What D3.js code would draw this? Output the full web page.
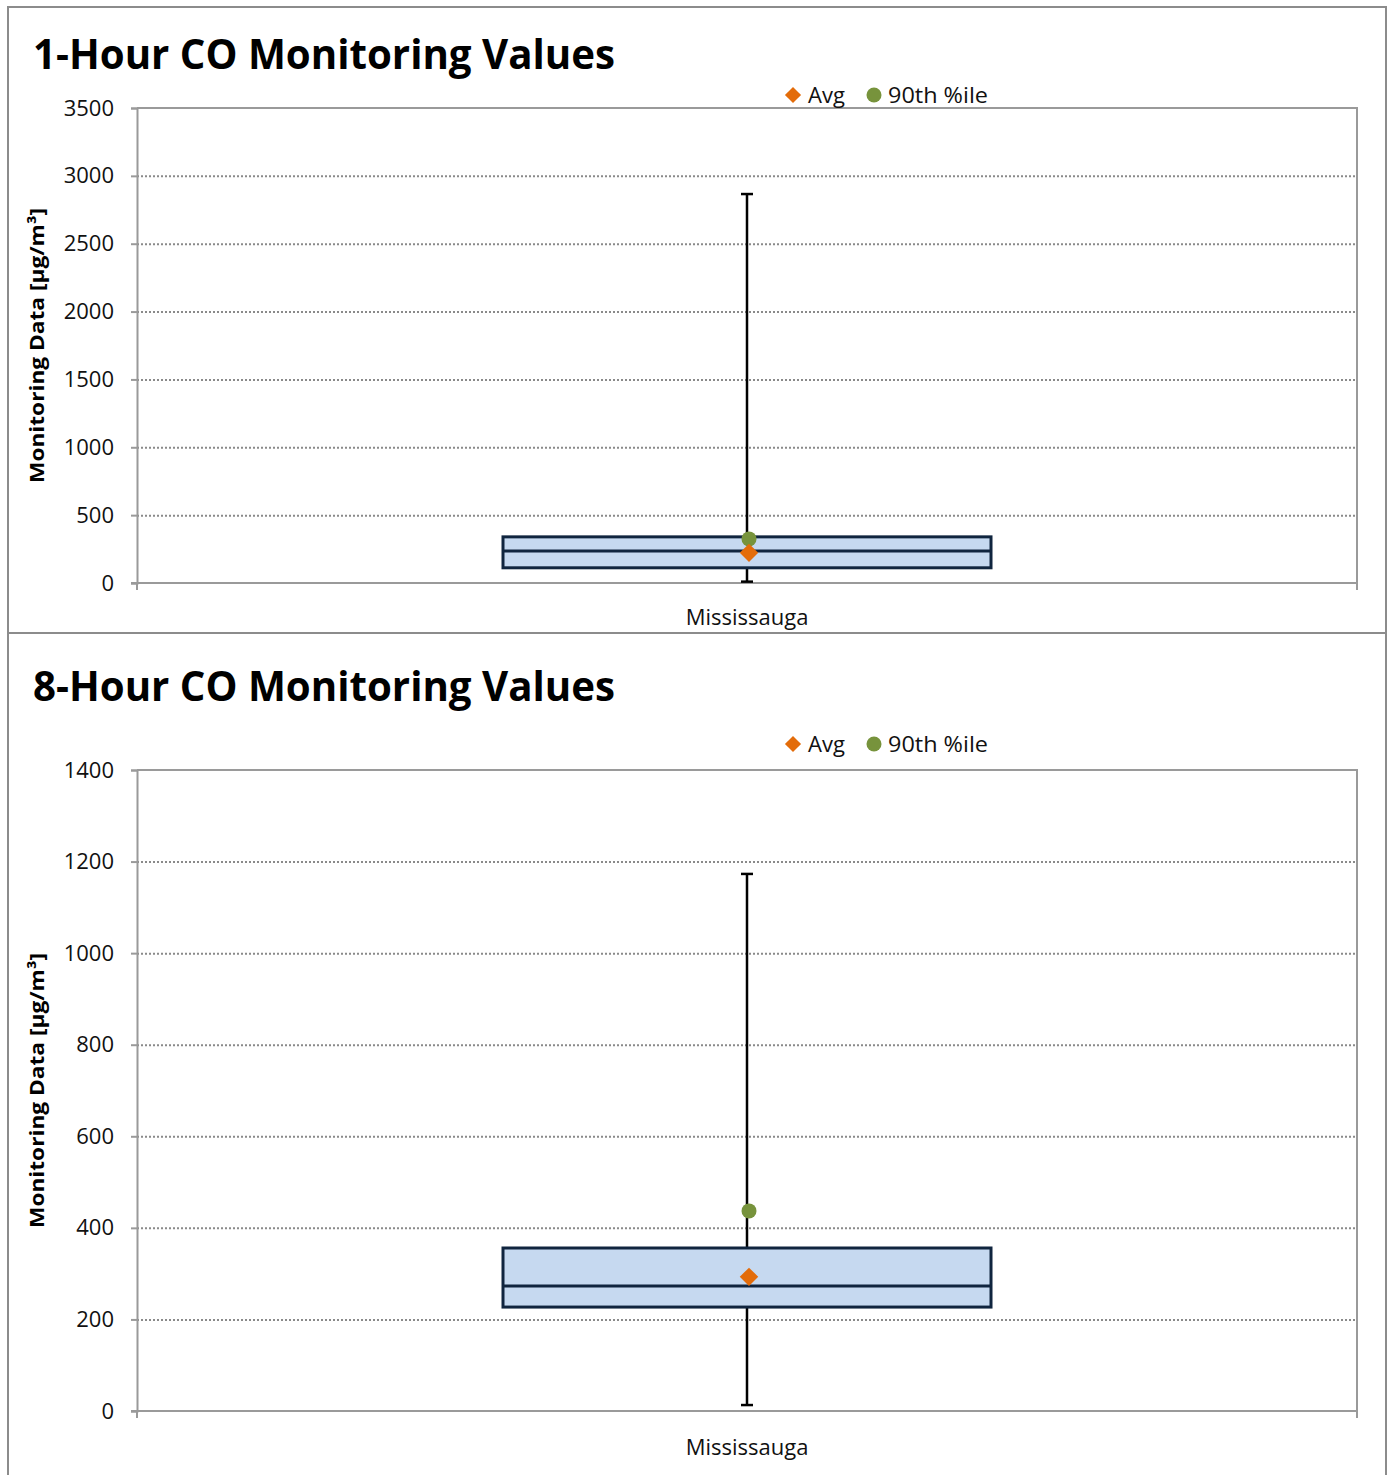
<!DOCTYPE html>
<html>
<head>
<meta charset="utf-8">
<script src="https://cdn.jsdelivr.net/npm/d3@7"></script>
<style>
  body { margin: 0; background: #fff; }
  text { font-family: "Open Sans", "DejaVu Sans", sans-serif; }
</style>
</head>
<body>
<script>
// chart values
const titles = ["1-Hour CO Monitoring Values", "8-Hour CO Monitoring Values"];
const stations = ["Mississauga"];
const yMaxes = [3500, 1400];
const yTicks = [
  [0, 500, 1000, 1500, 2000, 2500, 3000, 3500],
  [0, 200, 400, 600, 800, 1000, 1200, 1400]
];
const mins = [10, 13];
const q1s = [112, 227];
const medians = [236, 273];
const q3s = [340, 356];
const maxs = [2866, 1173];
const avgs = [222, 293];
const p90s = [325, 437];
const legendLabels = ["Avg", "90th %ile"];
const yLabel = "Monitoring Data [µg/m³]";

const W = 1393, H = 1475;
const left = 137, right = 1357;
const layout = [
  {titleY: 69, legendY: 95, top: 108, bottom: 583, labelY: 625},
  {titleY: 701, legendY: 744, top: 770, bottom: 1411, labelY: 1455}
];

const axisGray = "#9a9a9a";
const orange = "#e36c0a";
const green = "#77933c";

const svg = d3.select("body").append("svg")
  .attr("width", W)
  .attr("height", H);

// outer frame
svg.append("path")
  .attr("d", `M8,${H} V7 H1386 V${H}`)
  .attr("fill", "none")
  .attr("stroke", "#8c8c8c")
  .attr("stroke-width", 2);
svg.append("line")
  .attr("x1", 8).attr("x2", 1386)
  .attr("y1", 633).attr("y2", 633)
  .attr("stroke", "#8c8c8c")
  .attr("stroke-width", 2);

titles.forEach((title, i) => {
  const L = layout[i];
  const g = svg.append("g");

  const y = d3.scaleLinear().domain([0, yMaxes[i]]).range([L.bottom, L.top]);
  const x = d3.scaleBand().domain(stations).range([left, right])
    .paddingInner(0).paddingOuter(0.75);

  // title
  g.append("text")
    .attr("x", 33).attr("y", L.titleY)
    .attr("font-size", 42).attr("font-weight", "bold")
    .attr("textLength", 582).attr("lengthAdjust", "spacingAndGlyphs")
    .text(title);

  // gridlines
  g.append("g")
    .attr("transform", `translate(${left},0)`)
    .call(d3.axisLeft(y).tickValues(yTicks[i].slice(1, -1)).tickSize(-(right - left)).tickFormat(""))
    .call(s => s.select(".domain").remove())
    .call(s => s.selectAll("line")
      .attr("stroke", "#8a8a8a")
      .attr("stroke-width", 2)
      .attr("stroke-dasharray", "2,2"));

  // plot border (top/right)
  g.append("path")
    .attr("d", `M${left},${y(yMaxes[i])} H${right} V${y(0)}`)
    .attr("fill", "none")
    .attr("stroke", axisGray)
    .attr("stroke-width", 2);

  // y axis
  const ya = g.append("g")
    .attr("transform", `translate(${left},0)`)
    .call(d3.axisLeft(y).tickValues(yTicks[i]).tickFormat(d3.format("d")).tickSize(6).tickPadding(17));
  ya.select(".domain").attr("stroke", axisGray).attr("stroke-width", 2);
  ya.selectAll(".tick line").attr("stroke", axisGray).attr("stroke-width", 2);
  ya.selectAll(".tick text")
    .attr("font-size", 22)
    .attr("fill", "#111")
    .attr("font-family", "'Open Sans', sans-serif");

  // x axis
  g.append("line")
    .attr("x1", left - 6).attr("x2", right)
    .attr("y1", L.bottom).attr("y2", L.bottom)
    .attr("stroke", axisGray).attr("stroke-width", 2);
  x.range().forEach(px => {
    g.append("line")
      .attr("x1", px).attr("x2", px)
      .attr("y1", L.bottom).attr("y2", L.bottom + 7)
      .attr("stroke", axisGray).attr("stroke-width", 2);
  });
  g.selectAll(".xlab").data(stations).enter().append("text")
    .attr("class", "xlab")
    .attr("x", d => x(d) + x.bandwidth() / 2)
    .attr("y", L.labelY)
    .attr("text-anchor", "middle")
    .attr("font-size", 22)
    .attr("fill", "#111")
    .text(d => d);

  // y label
  g.append("text")
    .attr("transform", `translate(44,${(L.top + L.bottom) / 2}) rotate(-90)`)
    .attr("text-anchor", "middle")
    .attr("font-size", 20).attr("font-weight", "bold")
    .attr("textLength", 275).attr("lengthAdjust", "spacingAndGlyphs")
    .text(yLabel);

  // boxes
  stations.forEach(s => {
    const cx = x(s) + x.bandwidth() / 2;
    // whisker
    g.append("line")
      .attr("x1", cx).attr("x2", cx)
      .attr("y1", y(maxs[i])).attr("y2", y(mins[i]))
      .attr("stroke", "#000").attr("stroke-width", 2.5);
    [maxs[i], mins[i]].forEach(v => {
      g.append("line")
        .attr("x1", cx - 6).attr("x2", cx + 6)
        .attr("y1", y(v)).attr("y2", y(v))
        .attr("stroke", "#000").attr("stroke-width", 2.5);
    });
    g.append("rect")
      .attr("x", x(s)).attr("width", x.bandwidth())
      .attr("y", y(q3s[i])).attr("height", y(q1s[i]) - y(q3s[i]))
      .attr("fill", "#c6d9f0")
      .attr("stroke", "#10253f").attr("stroke-width", 3);
    g.append("line")
      .attr("x1", x(s)).attr("x2", x(s) + x.bandwidth())
      .attr("y1", y(medians[i])).attr("y2", y(medians[i]))
      .attr("stroke", "#10253f").attr("stroke-width", 3);
    // markers
    g.append("circle")
      .attr("cx", cx + 2).attr("cy", y(p90s[i]))
      .attr("r", 7.5).attr("fill", green);
    g.append("path")
      .attr("d", d3.symbol(d3.symbolSquare, 170)())
      .attr("transform", `translate(${cx + 2},${y(avgs[i])}) rotate(45)`)
      .attr("fill", orange);
  });

  // legend
  const lg = g.append("g").attr("transform", `translate(0,${L.legendY})`);
  lg.append("path")
    .attr("d", d3.symbol(d3.symbolSquare, 130)())
    .attr("transform", "translate(793,0) rotate(45)")
    .attr("fill", orange);
  lg.append("text").attr("x", 808).attr("y", 8).attr("font-size", 22).attr("fill", "#111").text(legendLabels[0]);
  lg.append("circle").attr("cx", 874).attr("cy", 0).attr("r", 7.5).attr("fill", green);
  lg.append("text").attr("x", 888).attr("y", 8).attr("font-size", 22).attr("fill", "#111")
    .attr("textLength", 100).attr("lengthAdjust", "spacingAndGlyphs").text(legendLabels[1]);
});
</script>
</body>
</html>
